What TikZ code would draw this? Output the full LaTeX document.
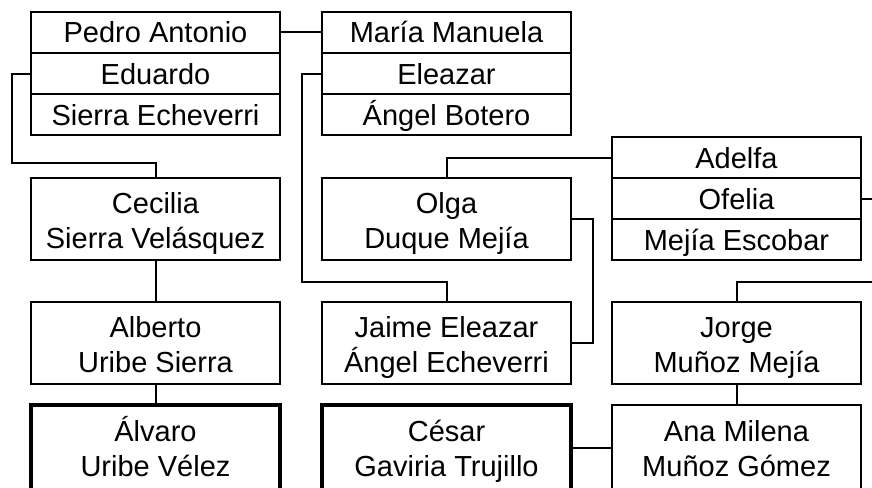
\documentclass[tikz,border=0pt]{standalone}
\usepackage{fontspec}
\setmainfont{Liberation Sans}
\begin{document}
\begin{tikzpicture}[x=1pt,y=-1pt,
    caja/.style={draw,line width=2pt,minimum width=249pt,inner sep=0pt,outer sep=0pt,
        align=center,anchor=north west,font=\fontsize{29}{35}\selectfont,text depth=0pt},
    fila/.style={caja,minimum height=41pt,text height=21pt},
    persona/.style={caja,minimum height=82pt,text height=58pt},
    clave/.style={persona,minimum height=85pt,line width=4.5pt},
    linea/.style={line width=2pt}]
    \clip (0,0) rectangle (872,487);
    % abuelos paternos
    \node[fila] (pedro) at (31,12) {Pedro Antonio};
    \node[fila] (eduardo) at (31,53) {Eduardo};
    \node[fila] (sierra) at (31,94) {Sierra Echeverri};
    \node[fila] (maria) at (322,12) {María Manuela};
    \node[fila] (eleazar) at (322,53) {Eleazar};
    \node[fila] (botero) at (322,94) {Ángel Botero};
    \node[fila] (adelfa) at (612,137) {Adelfa};
    \node[fila] (ofelia) at (612,178) {Ofelia};
    \node[fila] (escobar) at (612,219) {Mejía Escobar};
    % padres
    \node[persona] (cecilia) at (31,178) {Cecilia\\Sierra Velásquez};
    \node[persona] (olga) at (322,178) {Olga\\Duque Mejía};
    \node[persona] (alberto) at (31,302) {Alberto\\Uribe Sierra};
    \node[persona] (jaime) at (322,302) {Jaime Eleazar\\Ángel Echeverri};
    \node[persona] (jorge) at (612,302) {Jorge\\Muñoz Mejía};
    % presidentes
    \node[clave] (alvaro) at (31,405) {Álvaro\\Uribe Vélez};
    \node[clave] (cesar) at (322,405) {César\\Gaviria Trujillo};
    \node[persona,minimum height=85pt] (ana) at (612,405) {Ana Milena\\Muñoz Gómez};
    \coordinate (borde1) at (872,198.5);
    \coordinate (borde2) at (872,282);
    % lineas
    \draw[linea] (pedro.east) -- (maria.west);
    \draw[linea] (eduardo.west) -| (12,163) -| (cecilia.north);
    \draw[linea] (eleazar.west) -| (302,282) -| (jaime.north);
    \draw[linea] (olga.north) |- (adelfa.west);
    \draw[linea] (olga.east) -- ++(22,0) |- (jaime.east);
    \draw[linea] (ofelia.east) -- (borde1);
    \draw[linea] (cecilia.south) -- (alberto.north);
    \draw[linea] (alberto.south) -- (alvaro.north);
    \draw[linea] (jorge.north) |- (borde2);
    \draw[linea] (jorge.south) -- (ana.north);
    \draw[linea] (cesar.east) -- (ana.west);
\end{tikzpicture}
\end{document}
